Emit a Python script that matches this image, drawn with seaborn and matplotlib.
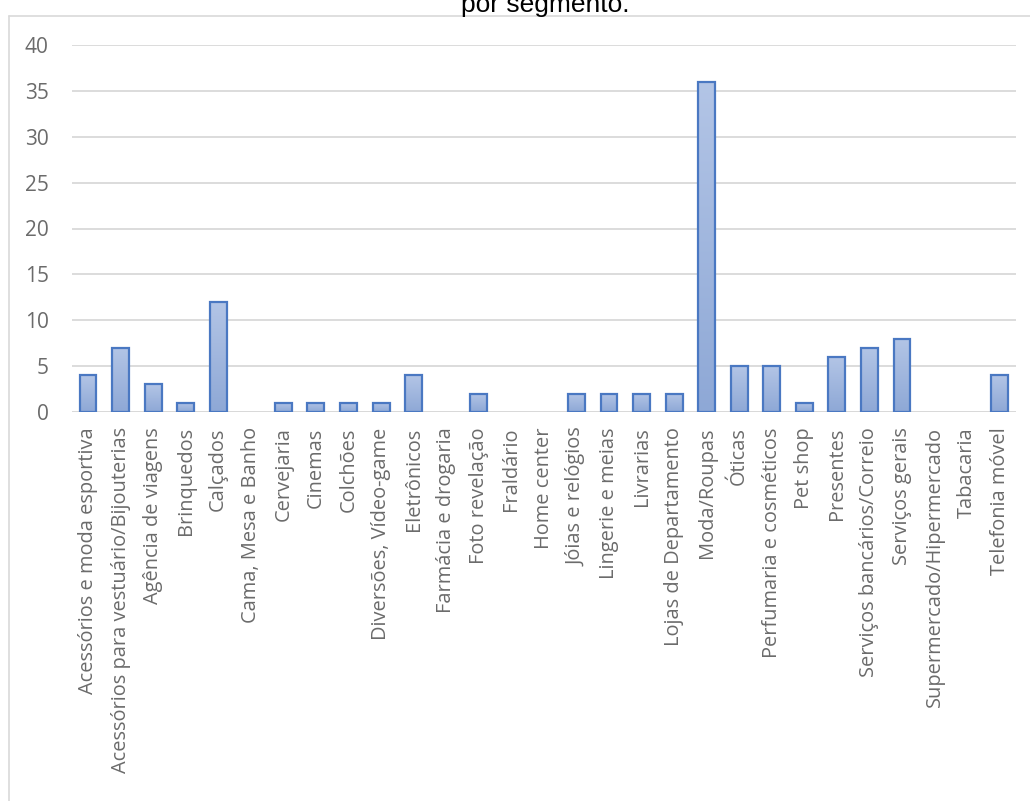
import numpy as np
import pandas as pd
import matplotlib
matplotlib.use("Agg")
import matplotlib.pyplot as plt
import seaborn as sns
from matplotlib.colors import LinearSegmentedColormap
from matplotlib.lines import Line2D

categories = [
    "Acessórios e moda esportiva", "Acessórios para vestuário/Bijouterias",
    "Agência de viagens", "Brinquedos", "Calçados", "Cama, Mesa e Banho",
    "Cervejaria", "Cinemas", "Colchões", "Diversões, Vídeo-game",
    "Eletrônicos", "Farmácia e drogaria", "Foto revelação", "Fraldário",
    "Home center", "Jóias e relógios", "Lingerie e meias", "Livrarias",
    "Lojas de Departamento", "Moda/Roupas", "Óticas",
    "Perfumaria e cosméticos", "Pet shop", "Presentes",
    "Serviços bancários/Correio", "Serviços gerais",
    "Supermercado/Hipermercado", "Tabacaria", "Telefonia móvel",
]
values = [4, 7, 3, 1, 12, 0, 1, 1, 1, 1, 4, 0, 2, 0, 0, 2, 2, 2, 2, 36,
          5, 5, 1, 6, 7, 8, 0, 0, 4]
yticks = [0, 5, 10, 15, 20, 25, 30, 35, 40]
title_text = "por segmento."

sns.set_style("white")
plt.rcParams['font.family'] = ['Open Sans', 'DejaVu Sans']

W, H = 1030, 801
fig = plt.figure(figsize=(W / 100, H / 100), dpi=100)
left, right, top, bottom = 71.7, 1016, 45, 412
ax = fig.add_axes([left / W, 1 - bottom / H, (right - left) / W, (bottom - top) / H])

df = pd.DataFrame({"cat": categories, "val": values})
sns.barplot(data=df, x="cat", y="val", ax=ax, width=0.52,
            color="#a5b9dd", edgecolor="#4a78c2", linewidth=1.6, saturation=1)

# gradient fill inside bars
cmap = LinearSegmentedColormap.from_list("g", ["#8ea8d6", "#b3c5e6"])
grad = np.linspace(0, 1, 256).reshape(-1, 1)
for p in ax.patches:
    h = p.get_height()
    if h <= 0:
        p.set_visible(False)
        continue
    x0 = p.get_x()
    w = p.get_width()
    im = ax.imshow(grad, cmap=cmap, aspect="auto", origin="lower",
                   extent=[x0, x0 + w, 0, h], zorder=p.get_zorder() - 0.1)
    im.set_clip_path(p)
    p.set_facecolor("none")

ax.set_xlim(-0.5, len(categories) - 0.5)
ax.set_ylim(0, 40)
ax.set_yticks(yticks)
ax.set_yticklabels([str(t) for t in yticks])
ax.yaxis.grid(True, color="#d9d9d9", linewidth=1.3)
ax.set_axisbelow(True)
ax.set_xlabel("")
ax.set_ylabel("")
for s in ax.spines.values():
    s.set_visible(False)
ax.axhline(0, color="#d9d9d9", linewidth=1.3, zorder=0.5)
ax.tick_params(axis="x", labelrotation=90, labelsize=14.4, colors="#6b6b6b",
               length=0, pad=11)
ax.tick_params(axis="y", labelsize=15, colors="#6b6b6b", length=0, pad=16.5)

# chart border
fig.add_artist(Line2D([8.5 / W, 8.5 / W], [0, 1 - 16.3 / H], transform=fig.transFigure,
                      color="#d9d9d9", linewidth=1.2))
fig.add_artist(Line2D([8.5 / W, 1.0], [1 - 16.3 / H, 1 - 16.3 / H], transform=fig.transFigure,
                      color="#d9d9d9", linewidth=1.2))

fig.text(545 / W, 1 - 12 / H, title_text, ha="center", va="baseline",
         fontsize=19, color="#000000", family=["Liberation Sans", "DejaVu Sans"])

fig.savefig("out.png", dpi=100)
